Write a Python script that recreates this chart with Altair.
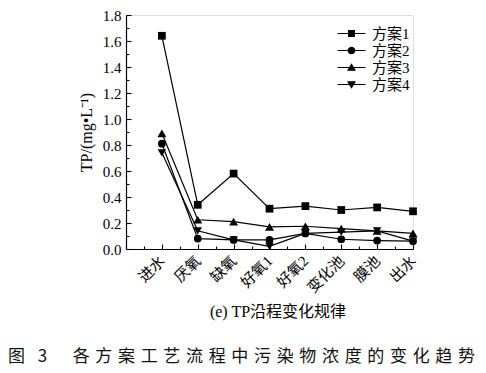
import altair as alt
import pandas as pd

cats = ["进水", "厌氧", "缺氧", "好氧1", "好氧2", "变化池", "膜池", "出水"]
series_names = ["方案1", "方案2", "方案3", "方案4"]
s1 = [1.64, 0.34, 0.58, 0.31, 0.33, 0.30, 0.32, 0.29]
s2 = [0.81, 0.08, 0.07, 0.07, 0.12, 0.075, 0.065, 0.06]
s3 = [0.89, 0.225, 0.21, 0.17, 0.175, 0.157, 0.14, 0.12]
s4 = [0.74, 0.14, 0.07, 0.02, 0.12, 0.13, 0.14, 0.06]
y_major = [0.0, 0.2, 0.4, 0.6, 0.8, 1.0, 1.2, 1.4, 1.6, 1.8]
y_minor = [0.1, 0.3, 0.5, 0.7, 0.9, 1.1, 1.3, 1.5, 1.7]
x_major = [1, 2, 3, 4, 5, 6, 7, 8]
x_minor = [0.5, 1.5, 2.5, 3.5, 4.5, 5.5, 6.5, 7.5]
marker_shapes = ["square", "circle", "triangle-up", "triangle-down"]
marker_sizes = [60, 60, 80, 72]
subtitle = "(e) TP沿程变化规律"
cap_head = "图\u2002\u20053"
cap_body = "各方案工艺流程中污染物浓度的变化趋势"

rows = []
for name, vals in zip(series_names, [s1, s2, s3, s4]):
    for i, (c, v) in enumerate(zip(cats, vals)):
        rows.append({"series": name, "pos": i + 1, "cat": c, "value": v})
df = pd.DataFrame(rows)

W, H = 287, 234
SERIF = "Liberation Serif, Noto Sans CJK SC"
CJK = "Noto Sans CJK SC"

x_scale = alt.Scale(domain=[0, 8], nice=False, zero=False)
y_scale = alt.Scale(domain=[0, 1.8], nice=False)
label_expr = "[" + ",".join(f"'{c}'" for c in cats) + "][datum.value-1]"

common_ax = dict(grid=False, domainColor="black", tickColor="black", labelColor="black", titleColor="black")

x_main = alt.Axis(orient="bottom", values=x_major, labelExpr=label_expr, labelAngle=-45,
                  labelAlign="right", labelBaseline="middle", ticks=False, title=None,
                  labelFont=SERIF, labelFontSize=15, labelPadding=9, labelOverlap=False,
                  labelBound=False, domainWidth=1.2, **common_ax)
y_main = alt.Axis(orient="left", values=y_major, format=".1f", ticks=False,
                  title="TP/(mg•L⁻¹)", titleFont=SERIF, titleFontSize=16, titleFontWeight="normal",
                  titlePadding=8, labelFont=SERIF, labelFontSize=15, labelPadding=5,
                  domainWidth=1.2, **common_ax)
x_tick_major = alt.Axis(orient="top", offset=-H, values=x_major, labels=False, domain=False,
                        tickSize=5, tickWidth=1.1, title=None, **common_ax)
y_tick_major = alt.Axis(orient="right", offset=-W, values=y_major, labels=False, domain=False,
                        tickSize=5, tickWidth=1.1, title=None, **common_ax)
x_tick_minor = alt.Axis(orient="top", offset=-H, values=x_minor, labels=False, domain=False,
                        tickSize=3, tickWidth=1.1, title=None, **common_ax)
y_tick_minor = alt.Axis(orient="right", offset=-W, values=y_minor, labels=False, domain=False,
                        tickSize=3, tickWidth=1.1, title=None, **common_ax)

base = alt.Chart(df)

lines = base.mark_line(color="black", strokeWidth=1.2).encode(
    x=alt.X("pos:Q", scale=x_scale, axis=x_main),
    y=alt.Y("value:Q", scale=y_scale, axis=y_main),
    detail="series:N",
)

point_layers = []
for k, (name, shp, sz) in enumerate(zip(series_names, marker_shapes, marker_sizes)):
    ax_x = x_tick_major if k == 0 else None
    ax_y = y_tick_major if k == 0 else None
    point_layers.append(
        base.transform_filter(alt.datum.series == name).mark_point(
            filled=True, color="black", opacity=1, shape=shp, size=sz
        ).encode(
            x=alt.X("pos:Q", scale=x_scale, axis=ax_x),
            y=alt.Y("value:Q", scale=y_scale, axis=ax_y),
        )
    )

# legend symbols: a thin bar (the line) plus the marker, all filled, same winding
bar = "M-2,-0.075H2V0.075H-2Z"
paths = [
    bar + "M-0.5,-0.5H0.5V0.5H-0.5Z",
    bar + "M0.55,0A0.55,0.55,0,1,1,-0.55,0A0.55,0.55,0,1,1,0.55,0Z",
    bar + "M0,-0.62L0.64,0.45L-0.64,0.45Z",
    bar + "M0,0.62L-0.64,-0.45L0.64,-0.45Z",
]

legend_layer = base.transform_filter("datum.value < 0").mark_point(
    filled=True, color="black", opacity=1
).encode(
    x=alt.X("pos:Q", scale=x_scale, axis=x_tick_minor),
    y=alt.Y("value:Q", scale=y_scale, axis=y_tick_minor),
    shape=alt.Shape("series:N", scale=alt.Scale(domain=series_names, range=paths),
                    legend=alt.Legend(title=None, orient="none", legendX=218, legendY=11,
                                      padding=0, symbolSize=196, symbolFillColor="black",
                                      symbolStrokeColor="black", symbolStrokeWidth=0,
                                      symbolOpacity=1, labelFont=SERIF, labelFontSize=15,
                                      labelColor="black", labelOffset=13, rowPadding=1)),
)

sub = alt.Chart(pd.DataFrame({"t": [subtitle]})).mark_text(
    font=SERIF, fontSize=16, color="black", align="center", baseline="middle"
).encode(text="t:N", x=alt.value(152), y=alt.value(297))

cap = alt.Chart(pd.DataFrame({"t": [cap_head + "\u2003\u2002" + "\u2004".join(cap_body)]})).mark_text(
    font=CJK, fontSize=17, color="#111", align="left", baseline="middle"
).encode(text="t:N", x=alt.value(-118), y=alt.value(341.5))

chart = alt.layer(lines, *point_layers, legend_layer, sub, cap).resolve_axis(
    x="independent", y="independent"
).properties(
    width=W, height=H,
    autosize=alt.AutoSizeParams(type="none"),
    padding={"left": 118, "top": 7, "right": 65, "bottom": 116},
).configure_view(stroke=None).configure(background="white")

chart.save("out.html", embed_options={"renderer": "svg", "actions": False})
